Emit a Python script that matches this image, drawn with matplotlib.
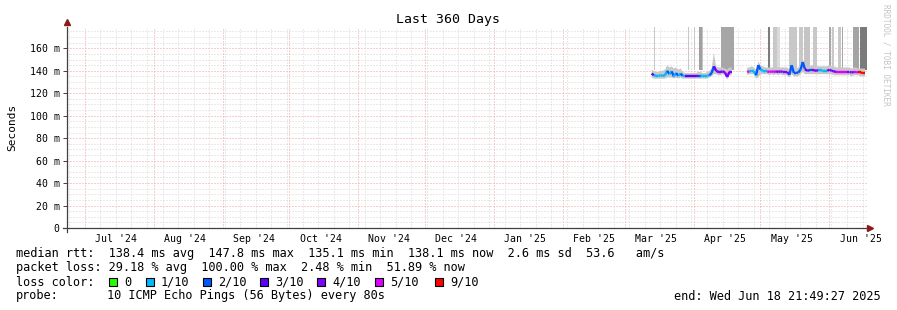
import numpy as np
import pandas as pd
import matplotlib
matplotlib.use("Agg")
import matplotlib.pyplot as plt
import matplotlib.dates as mdates
from matplotlib.collections import LineCollection
from matplotlib.patches import Rectangle

MONO = "DejaVu Sans Mono"
plt.rcParams["font.family"] = MONO

# time window of the graph
t_start = pd.Timestamp("2024-06-23 21:49:27")
t_end = pd.Timestamp("2025-06-18 21:49:27")

# one sample per day, 2025-03-14 .. 2025-06-18 (nan = no data)
days = pd.date_range("2025-03-14", "2025-06-18", freq="D")
nan = np.nan

median_ms = [
    # Mar 14-31
    137.5, 136.0, 135.5, 135.5, 136.0, 135.5, 136.0, 140.0, 137.0, 139.5, 135.0, 138.0, 135.5, 137.5, 135.5, 135.3, 135.3, 135.3,
    # Apr
    135.3, 135.3, 135.3, 135.5, 135.5, 135.3, 135.5, 135.5, 136.0, 138.0, 144.0, 140.0, 139.0, 139.0, 139.5, 138.5, 134.5, 139.0, 139.0,
    nan, nan, nan, nan, nan, nan, 139.0, 139.5, 140.0, 139.5, 136.0,
    # May
    145.0, 141.0, 140.0, 139.5, 139.5, 139.0, 139.5, 139.0, 139.5, 139.0, 139.5, 139.0, 139.0, 139.0, 136.5, 145.0, 138.0, 138.0, 138.5, 141.0,
    147.8, 141.5, 140.0, 140.5, 140.5, 140.5, 140.0, 140.5, 140.5, 140.0, 140.0,
    # Jun 1-18
    140.0, 141.0, 140.0, 139.5, 139.0, 139.0, 139.0, 139.0, 139.0, 139.0, 139.0, 138.5, 139.0, 139.0, 138.5, 138.5, 138.0, 138.1,
]

loss_tenths = [
    3, 1, 1, 1, 1, 1, 1, 2, 1, 2, 1, 2, 1, 2, 1, 3, 3, 3,
    3, 3, 3, 2, 1, 1, 1, 1, 2, 2, 3, 4, 4, 4, 4, 4, 4, 4, 5,
    0, 0, 0, 0, 0, 0, 5, 1, 1, 1, 2,
    2, 1, 1, 1, 5, 5, 5, 5, 4, 4, 4, 4, 4, 4, 2, 2, 2, 2, 2, 2,
    2, 3, 4, 2, 4, 4, 4, 1, 1, 1, 1,
    4, 4, 4, 4, 5, 5, 5, 5, 5, 4, 4, 4, 5, 5, 9, 9, 9, 9,
]

smoke_lo = [
    134, 133, 133, 133, 133, 133, 133, 134, 134, 134, 133, 134, 133, 134, 133, 133, 133, 133,
    133, 133, 133, 133, 133, 133, 133, 133, 134, 135, 137, 137, 136, 136, 137, 136, 132, 136, 136,
    nan, nan, nan, nan, nan, nan, 136, 137, 137, 137, 133,
    134, 137, 137, 137, 137, 136, 137, 136, 137, 136, 137, 136, 136, 136, 134, 137, 135, 135, 135, 137,
    139, 137, 137, 137, 137, 137, 137, 137, 137, 137, 137,
    137, 137, 137, 136, 136, 136, 136, 136, 136, 136, 136, 135, 136, 136, 136, 135, 135, 135,
]

smoke_hi = [
    141, 140, 139, 139, 140, 140, 141, 145, 143, 144, 142, 143, 141, 142, 139, 138, 138, 138,
    138, 138, 138, 139, 139, 138, 138, 139, 140, 142, 156, 144, 143, 143, 143, 142, 141, 143, 143,
    nan, nan, nan, nan, nan, nan, 143, 143, 144, 143, 141,
    148, 145, 144, 143, 143, 143, 143, 143, 143, 143, 143, 143, 143, 143, 141, 147, 142, 142, 143, 145,
    150, 145, 144, 144, 145, 145, 144, 144, 144, 144, 144,
    144, 145, 144, 144, 143, 143, 143, 143, 143, 143, 143, 142, 143, 143, 142, 142, 142, 142,
]

# periods where the slowest pings went off the top of the graph
spike_from = ["2025-03-15 06:00", "2025-03-30 12:00", "2025-03-31 12:00", "2025-04-02 00:00",
              "2025-04-04 10:00", "2025-04-05 12:00", "2025-04-14 04:00", "2025-05-05 08:00",
              "2025-05-07 14:00", "2025-05-09 10:00", "2025-05-14 18:00", "2025-05-19 08:00",
              "2025-05-21 14:00", "2025-05-25 14:00", "2025-06-01 18:00", "2025-06-03 04:00",
              "2025-06-05 22:00", "2025-06-07 16:00", "2025-06-12 14:00", "2025-06-15 18:00"]
spike_to = ["2025-03-15 16:00", "2025-03-30 22:00", "2025-03-31 22:00", "2025-04-02 10:00",
            "2025-04-05 12:00", "2025-04-06 04:00", "2025-04-19 22:00", "2025-05-06 06:00",
            "2025-05-09 10:00", "2025-05-10 20:00", "2025-05-18 10:00", "2025-05-21 02:00",
            "2025-05-24 06:00", "2025-05-27 10:00", "2025-06-02 16:00", "2025-06-04 02:00",
            "2025-06-07 04:00", "2025-06-08 08:00", "2025-06-15 08:00", "2025-06-18 21:49"]
spike_grey = ["#c8c8c8", "#c8c8c8", "#bdbdbd", "#c8c8c8", "#a0a0a0", "#c4c4c4", "#a6a6a6",
              "#7c7c7c", "#c8c8c8", "#dadada", "#c8c8c8", "#c8c8c8", "#c4c4c4", "#c8c8c8",
              "#a8a8a8", "#c8c8c8", "#c8c8c8", "#a8a8a8", "#a4a4a4", "#7a7a7a"]

loss_levels = [0, 1, 2, 3, 4, 5, 9]
loss_names = ["0", "1/10", "2/10", "3/10", "4/10", "5/10", "9/10"]
loss_colors = ["#26ff00", "#00b8ff", "#0059ff", "#5e00ff", "#7e00ff", "#dd00ff", "#ff0000"]
color_of = dict(zip(loss_levels, loss_colors))

W, H = 897, 310
fig = plt.figure(figsize=(W / 100, H / 100), dpi=100)
fig.patch.set_facecolor("white")
ax = fig.add_axes([67 / W, 82 / H, 800 / W, 201 / H])
ytop = 0.179
ax.set_xlim(t_start, t_end)
ax.set_ylim(0, ytop)
for s in ax.spines.values():
    s.set_visible(False)

# grid
for y in np.arange(0.005, ytop, 0.005):
    major = round(y * 1000) % 20 == 0
    ax.axhline(y, color="#f0a0a0" if major else "#d6d6d6", lw=0.72,
               ls=(0, (1, 2)), zorder=0)
months = pd.date_range(t_start, t_end, freq="MS")
for d in pd.date_range(t_start, t_end, freq="W-MON"):
    if d not in months:
        ax.axvline(d, color="#d6d6d6", lw=0.72, ls=(0, (1, 2)), zorder=0)
for d in months:
    ax.axvline(d, color="#f0a0a0", lw=0.72, ls=(0, (1, 2)), zorder=0)

x = mdates.date2num(days)
med = np.array(median_ms) / 1000
lo = np.array(smoke_lo, dtype=float) / 1000
hi = np.array(smoke_hi, dtype=float) / 1000

# tall smoke
for a, b, c in zip(spike_from, spike_to, spike_grey):
    xa, xb = mdates.date2num(pd.Timestamp(a)), mdates.date2num(pd.Timestamp(b))
    ax.bar(xa, ytop - 0.1405, bottom=0.1405, width=xb - xa, align="edge",
           color=c, lw=0, zorder=1)

# smoke around the median
ax.fill_between(x, lo, hi, color="#c8c8c8", lw=0, zorder=2)

# median coloured by loss
segs, cols = [], []
for i in range(len(x) - 1):
    if np.isnan(med[i]) or np.isnan(med[i + 1]):
        continue
    segs.append([(x[i], med[i]), (x[i + 1], med[i + 1])])
    cols.append(color_of[loss_tenths[i]])
ax.add_collection(LineCollection(segs, colors=cols, linewidths=1.7, zorder=3,
                                 capstyle="butt"))

# axes lines with arrows
ax.plot([0, 0], [-0.02, 1.0], transform=ax.transAxes, color="#404040", lw=0.9,
        clip_on=False, zorder=5)
ax.plot([-0.005, 1.003], [0, 0], transform=ax.transAxes, color="#404040", lw=0.9,
        clip_on=False, zorder=5)
ax.plot([0], [1.025], marker="^", ms=4, color="#8b1a1a", transform=ax.transAxes,
        clip_on=False, zorder=6)
ax.plot([1.004], [0], marker=">", ms=4, color="#8b1a1a", transform=ax.transAxes,
        clip_on=False, zorder=6)

# ticks
yt = np.arange(0, 0.161, 0.02)
ax.set_yticks(yt)
ax.set_yticklabels(["0" if v == 0 else f"{v * 1000:.0f} m" for v in yt])
ax.tick_params(axis="y", length=3, width=0.7, color="#404040", pad=2.2,
               labelsize=7.1, labelcolor="#000000")
lab_days = [pd.Timestamp(d.year, d.month, 16) for d in pd.date_range("2024-07-01", "2025-06-01", freq="MS")]
ax.set_xticks(lab_days)
ax.set_xticklabels([d.strftime("%b '%y") for d in lab_days])
ax.tick_params(axis="x", length=0, pad=4.5, labelsize=7.1)

ax.set_ylabel("Seconds", fontsize=8)
ax.yaxis.set_label_coords(-50 / 800, 0.5)

fig.text(448 / W, 1 - 19 / H, "Last 360 Days", ha="center", va="center", fontsize=9.5)
fig.text(886 / W, 1 - 4 / H, "RRDTOOL / TOBI OETIKER", rotation=-90, ha="center",
         va="top", fontsize=5.6, color="#c4c4c4")

# legend block
fs = 8.55
rows = [254, 268, 282, 296]
fig.text(16 / W, 1 - rows[0] / H,
         "median rtt:  138.4 ms avg  147.8 ms max  135.1 ms min  138.1 ms now  2.6 ms sd  53.6   am/s",
         va="center", fontsize=fs)
fig.text(16 / W, 1 - rows[1] / H,
         "packet loss: 29.18 % avg  100.00 % max  2.48 % min  51.89 % now",
         va="center", fontsize=fs)
fig.text(16 / W, 1 - rows[2] / H, "loss color:", va="center", fontsize=fs)
box_x = [109, 146, 203, 260, 317, 375, 435]
for bx, name, col in zip(box_x, loss_names, loss_colors):
    fig.patches.append(Rectangle((bx / W, 1 - 286 / H), 8 / W, 8 / H, facecolor=col,
                                 edgecolor="black", lw=0.8, transform=fig.transFigure))
    fig.text((bx + 15) / W, 1 - rows[2] / H, name, va="center", fontsize=fs)
fig.text(16 / W, 1 - rows[3] / H, "probe:", va="center", fontsize=fs)
fig.text(107 / W, 1 - rows[3] / H, "10 ICMP Echo Pings (56 Bytes) every 80s",
         va="center", fontsize=fs)
fig.text(881 / W, 1 - rows[3] / H, "end: Wed Jun 18 21:49:27 2025", ha="right",
         va="center", fontsize=fs)

fig.savefig("out.png", dpi=100, facecolor="white")
